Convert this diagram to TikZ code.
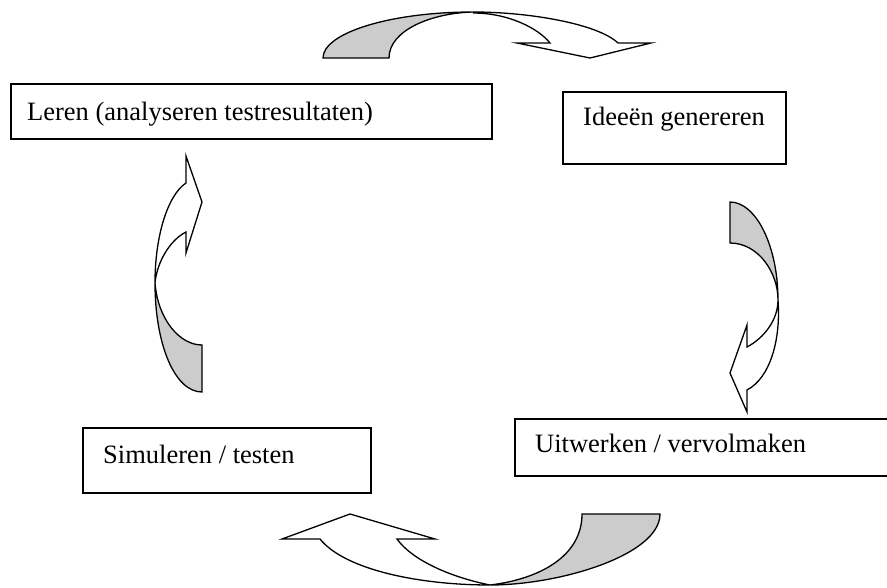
\documentclass[tikz,border=0pt]{standalone}
\usepackage{fontspec}
\setmainfont{Liberation Serif}
\definecolor{backgrey}{RGB}{204,204,204}
\begin{document}
\begin{tikzpicture}[x=1pt,y=-1pt,
  boxnode/.style={draw=black,line width=1.7pt,inner sep=0pt,anchor=north west},
  lbl/.style={anchor=base west,inner sep=0pt,font=\fontsize{26.5}{30}\selectfont},
  arrowline/.style={draw=black,line width=1.3pt,line join=miter},
  backpart/.style={arrowline,fill=backgrey},
  frontpart/.style={arrowline,fill=white}]
\useasboundingbox (0,0) rectangle (887,587);
% boxes
\node[boxnode,minimum width=481pt,minimum height=55pt] (b1) at (10,83) {};
\node[lbl] (t1) at (27,120) {Leren (analyseren testresultaten)};
\node[boxnode,minimum width=223pt,minimum height=72pt] (b2) at (562,91) {};
\node[lbl] (t2) at (583,125) {Ideeën genereren};
\node[boxnode,minimum width=288pt,minimum height=65pt] (b3) at (82,427) {};
\node[lbl] (t3) at (103,463) {Simuleren / testen};
\node[boxnode,minimum width=380pt,minimum height=57pt] (b4) at (514,418) {};
\node[lbl] (t4) at (535,452) {Uitwerken / vervolmaken};
% top arrow
\path[frontpart] (473,12) .. controls (530,12) and (598,24) .. (618,43)
  -- (651,43) -- (590,58) -- (517,43) -- (550,43)
  .. controls (538,28) and (508,13) .. (473,13);
\path[backpart] (323,58) .. controls (323,33) and (390,12) .. (473,12)
  .. controls (432,13) and (389,30) .. (389,58) -- cycle;
% right arrow
\path[backpart] (730,202) .. controls (756,202) and (778,246) .. (778,300)
  .. controls (778,272) and (758,243) .. (730,243) -- cycle;
\path[frontpart] (778,300) .. controls (781,340) and (770,378) .. (747,390)
  -- (747,412) -- (730,373) -- (747,325) -- (747,347)
  .. controls (764,338) and (778,320) .. (778,300);
% left arrow
\path[frontpart] (155,283) .. controls (155,235) and (168,195) .. (186,183)
  -- (186,156) -- (202,202) -- (186,253) -- (186,232)
  .. controls (170,240) and (157,262) .. (155,283);
\path[backpart] (155,283) .. controls (155,345) and (175,392) .. (202,392)
  -- (202,345) .. controls (180,345) and (158,320) .. (155,283);
% bottom arrow
\path[frontpart] (490,585) .. controls (420,585) and (345,570) .. (320,539)
  -- (282,539) -- (350,514) -- (435,539) -- (397,539)
  .. controls (412,560) and (450,577) .. (490,585);
\path[backpart] (490,585) .. controls (560,585) and (660,555) .. (660,514)
  -- (582,514) .. controls (582,556) and (540,579) .. (490,585);
\end{tikzpicture}
\end{document}
